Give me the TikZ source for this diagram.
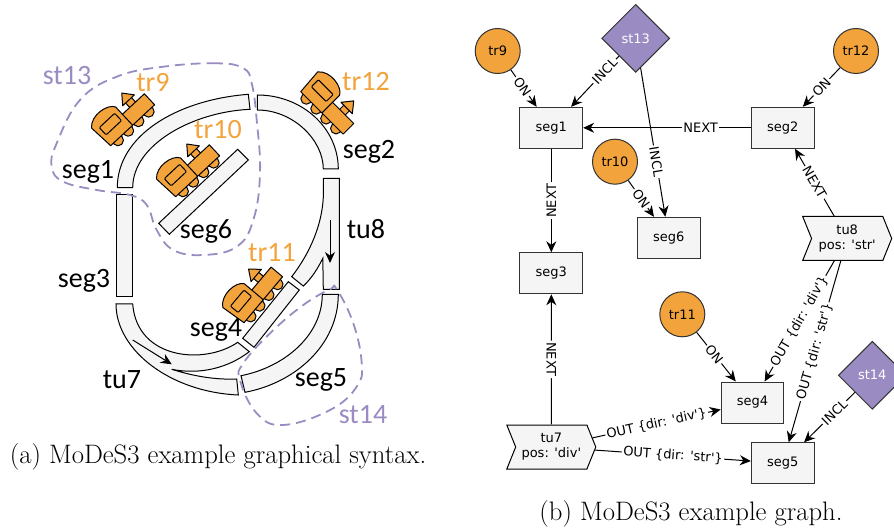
\documentclass[tikz,border=0pt]{standalone}
\usepackage{fontspec}
\usetikzlibrary{arrows.meta}
\usetikzlibrary{shapes.geometric}
\usetikzlibrary{shapes.symbols}
\newfontfamily\graphfont{DejaVu Sans}
\newfontfamily\syntaxfont{Carlito}
\definecolor{trainorange}{HTML}{F2A33C}
\definecolor{stationpurple}{HTML}{9A8CC2}
\definecolor{trackgray}{HTML}{F5F5F5}
\tikzset{
  trainpart/.style = {draw, fill=trainorange, line width=1pt, line join=round},
  train/.pic = {
    \foreach \wx in {9,23,37,51} \draw[trainpart] (\wx,-1) circle (5.5);
    \draw[trainpart] (40,14) rectangle (48,22);
    \draw[trainpart] (36,21) -- (44,31) -- (52,21) -- cycle;
    \draw[trainpart] (27,0) rectangle (60,15);
    \draw[trainpart] (0,0) -- (30,0) -- (30,25) .. controls (26,33) and (6,36) .. (-2,26) -- cycle;
    \draw[trainpart, rounded corners=1pt] (4,11) rectangle (25,21);
  }
}
\begin{document}
\begin{tikzpicture}[x=1pt, y=1pt, >={Stealth[length=11pt, width=10pt]},
  track/.style = {draw, fill=trackgray, line width=1pt},
  stdash/.style = {draw=stationpurple, dashed, dash pattern=on 10pt off 6pt, line width=1.8pt},
  syntaxlabel/.style = {font=\syntaxfont\fontsize{28}{30}\selectfont},
  trlabel/.style = {syntaxlabel, text=trainorange},
  stlabel/.style = {syntaxlabel, text=stationpurple},
  caption/.style = {font=\fontsize{26.7}{30}\selectfont, text=black},
  main/.style = {draw=black!80, fill=trackgray, line width=1pt, minimum width=62.7pt, minimum height=41pt, font=\graphfont\fontsize{13}{15}\selectfont},
  tr/.style = {draw=black!80, fill=trainorange, circle, line width=1pt, minimum size=45pt, inner sep=0pt, font=\graphfont\fontsize{13}{15}\selectfont},
  st/.style = {draw=black!80, fill=stationpurple, diamond, line width=1pt, minimum width=68pt, minimum height=68pt, inner sep=0pt, text=white, font=\graphfont\fontsize{13}{15}\selectfont},
  tu/.style = {draw=black, fill=trackgray, signal, signal to=east, signal from=west, signal pointer angle=136, line width=1pt, minimum width=89pt, minimum height=44pt, inner sep=0pt, align=center, font=\graphfont\fontsize{13}{15}\selectfont},
  edgelabel/.style = {fill=white, sloped, inner sep=1.5pt, font=\graphfont\fontsize{13}{15}\selectfont}]
\useasboundingbox (0,0) rectangle (894,-529);

\draw[track] (117.3,-187.7) .. controls (117.3,-136) and (176,-100) .. (248.3,-94.3) -- (250,-109.3) .. controls (192,-112) and (132.7,-145) .. (132.7,-187.7) -- cycle;
\draw[track] (257.3,-95) .. controls (302,-95) and (338.3,-128) .. (338.3,-169) -- (323.3,-169) .. controls (323.3,-140) and (293,-110) .. (257.3,-110) -- cycle;
\draw[track] (116,-195) rectangle (132.7,-296.7);
\draw[track] (323.3,-178.3) -- (323.3,-197) .. controls (322,-225) and (310,-253) .. (291.7,-276.7) -- (303.3,-286) .. controls (312,-278) and (318,-268) .. (322.8,-258.3) -- (323.3,-289.3) -- (339.3,-289.3) -- (339.3,-178.3) -- cycle;
\draw[track] (242.7,-338.3) -- (254,-347.3) -- (299.3,-290) -- (288.3,-281.7) -- cycle;
\draw[track] (322.3,-294.3) -- (338.3,-294.3) .. controls (338.3,-345) and (295,-383) .. (245,-392.3) -- (241,-375.7) .. controls (285,-367) and (322.3,-335) .. (322.3,-294.3) -- cycle;
\draw[track] (116,-304) .. controls (116,-350) and (170,-392) .. (238.3,-395) -- (236.7,-379) .. controls (212,-380) and (190,-375) .. (171.7,-369.3) .. controls (200,-375) and (228,-368) .. (249.3,-351.7) -- (237.7,-342.3) .. controls (205,-365) and (137,-360) .. (132.7,-304) -- cycle;
\draw[->, line width=1pt] (132.7,-340) -- (171.7,-364.3);
\draw[->, line width=1pt] (330,-220) -- (330,-263);

\pic[rotate=43] (train9) at (110.7,-145.7) {train};
\pic[rotate=43] (train10) at (175.7,-196.7) {train};
\pic[rotate=50] (train11) at (244,-322.7) {train};
\pic[rotate=-45] (train12) at (300.7,-91.7) {train};
\draw[track] (158.7,-223.3) -- (169.3,-234.3) -- (248.3,-160) -- (237.7,-149.3) -- cycle;

\draw[stdash] plot[smooth cycle, tension=0.7] coordinates {(243.3,-68.3) (216.7,-63.3) (163.3,-66.7) (116.7,-76.7) (80,-100) (56.7,-143.3) (51.7,-166.7) (63.3,-181.7) (96.7,-190) (130,-195) (146.7,-205) (156.7,-230) (173.3,-250) (203.3,-255) (236.7,-246.7) (253.3,-220) (260,-173.3) (256.7,-120) (251.7,-83.3)};
\draw[stdash] plot[smooth cycle, tension=0.7] coordinates {(336.7,-289.3) (353.3,-323.3) (361.7,-363.3) (356.7,-386.7) (330,-410) (283.3,-425) (256.7,-413.3) (240,-380) (243.3,-363.3) (270,-333.3) (303.3,-305) (330,-289.3)};

\node[syntaxlabel] (lseg1) at (88,-172) {seg1};
\node[syntaxlabel] (lseg2) at (369,-152) {seg2};
\node[syntaxlabel] (lseg3) at (84,-281) {seg3};
\node[syntaxlabel] (lseg4) at (216,-330) {seg4};
\node[syntaxlabel] (lseg5) at (321,-380) {seg5};
\node[syntaxlabel] (lseg6) at (206,-231) {seg6};
\node[syntaxlabel] (ltu7) at (122,-380) {tu7};
\node[syntaxlabel] (ltu8) at (366,-229) {tu8};
\node[trlabel] (ltr9) at (153,-83) {tr9};
\node[trlabel] (ltr10) at (218,-130) {tr10};
\node[trlabel] (ltr11) at (272,-253) {tr11};
\node[trlabel] (ltr12) at (366,-82) {tr12};
\node[stlabel] (lst13) at (67,-76) {st13};
\node[stlabel] (lst14) at (363,-415) {st14};
\node[caption] (capa) at (218,-457) {(a) MoDeS3 example graphical syntax.};

\node[main] (seg1) at (551.3,-127.8) {seg1};
\node[main, node distance=231.5pt] (seg2) [right of=seg1] {seg2};
\node[main, node distance=145.5pt] (seg3) [below of=seg1] {seg3};
\node[main] (seg6) at (668.8,-237.8) {seg6};
\node[main] (seg4) at (752.5,-402.5) {seg4};
\node[main] (seg5) at (782.7,-463.3) {seg5};
\node[tr] (tr9) at (497.7,-51) {tr9};
\node[tr] (tr10) at (615,-161.7) {tr10};
\node[tr] (tr11) at (682.3,-314.3) {tr11};
\node[tr] (tr12) at (856,-51) {tr12};
\node[st] (st13) at (635.7,-38.3) {st13};
\node[st] (st14) at (872.3,-375.3) {st14};
\node[tu] (tu7) at (551.3,-447) {tu7\\pos: 'div'};
\node[tu] (tu8) at (847.2,-238.5) {tu8\\pos: 'str'};
\node[caption] (capb) at (691,-514) {(b) MoDeS3 example graph.};

\draw[->, line width=1pt] (tr9) -- node[edgelabel, pos=0.45] (on9) {ON} (seg1);
\draw[->, line width=1pt] (tr10) -- node[edgelabel] (on10) {ON} (seg6);
\draw[->, line width=1pt] (tr11) -- node[edgelabel, pos=0.45] (on11) {ON} (seg4);
\draw[->, line width=1pt] (tr12) -- node[edgelabel] (on12) {ON} (seg2);
\draw[->, line width=1pt] (st13) -- node[edgelabel, pos=0.3] (incl1) {INCL} (seg1);
\draw[->, line width=1pt] (st13) -- node[edgelabel, pos=0.63] (incl6) {INCL} (seg6);
\draw[->, line width=1pt] (st14) -- node[edgelabel, pos=0.4] (incl5) {INCL} (seg5);
\draw[->, line width=1pt] (seg2) -- node[edgelabel, pos=0.3] (next1) {NEXT} (seg1);
\draw[->, line width=1pt] (seg1) -- node[edgelabel, sloped=false, rotate=90] (next3) {NEXT} (seg3);
\draw[->, line width=1pt] (tu7) -- node[edgelabel] (next7) {NEXT} (seg3);
\draw[->, line width=1pt] (tu8) -- node[edgelabel] (next8) {NEXT} (seg2);
\draw[->, line width=1pt] (tu7) -- node[edgelabel] (outa) {OUT \{dir: 'div'\}} (seg4);
\draw[->, line width=1pt] (tu7) -- node[edgelabel] (outb) {OUT \{dir: 'str'\}} (seg5);
\draw[->, line width=1pt] (tu8) -- node[edgelabel] (outc) {OUT \{dir: 'div'\}} (seg4);
\draw[->, line width=1pt] (tu8) -- node[edgelabel] (outd) {OUT \{dir: 'str'\}} (seg5);
\end{tikzpicture}
\end{document}
